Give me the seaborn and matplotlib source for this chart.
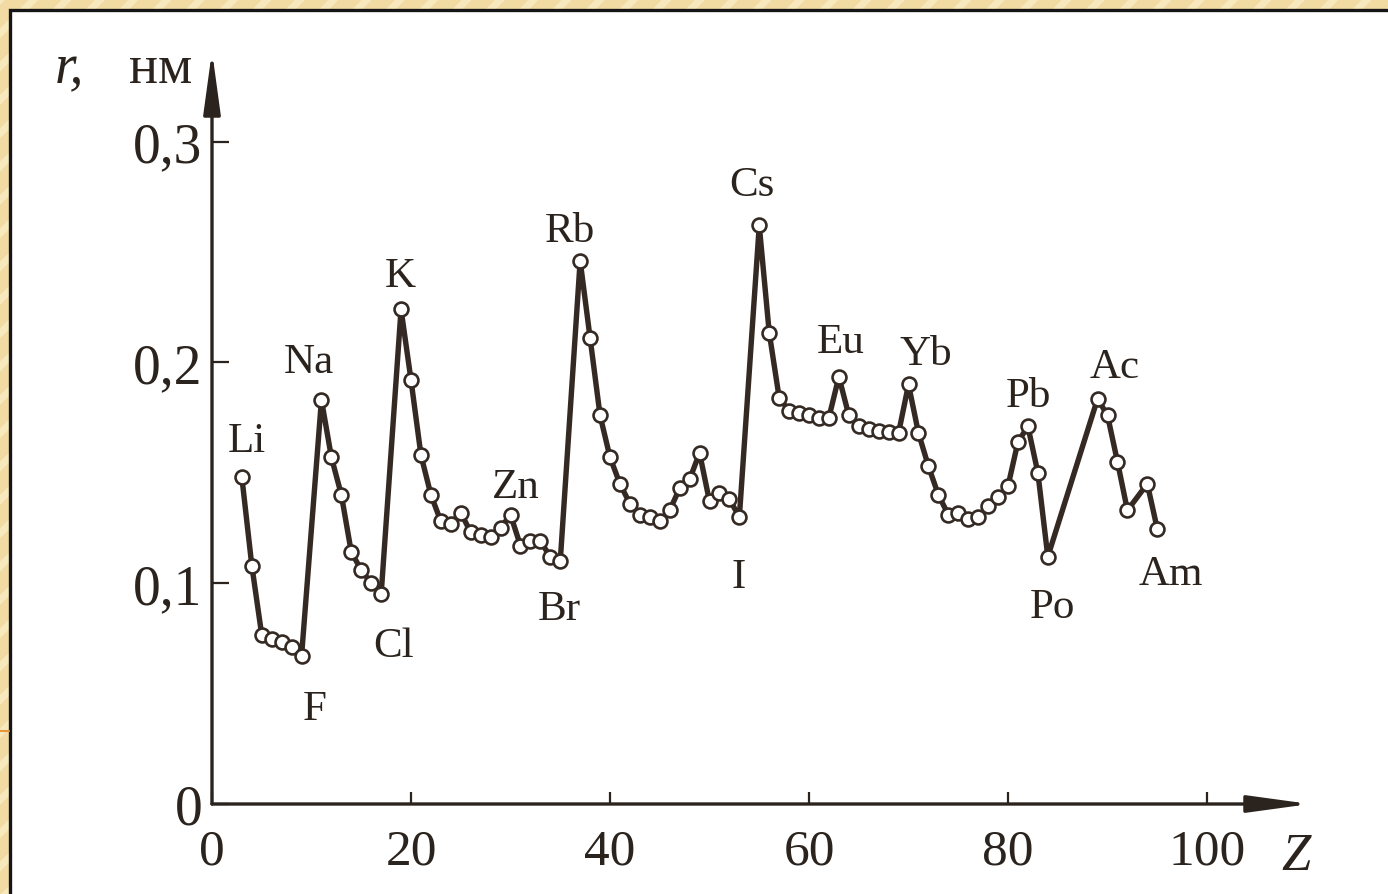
import numpy as np
import pandas as pd
import matplotlib
matplotlib.use("Agg")
import matplotlib.pyplot as plt
from matplotlib.patches import Rectangle
from matplotlib.lines import Line2D
import seaborn as sns

# atomic number and radius (nm), noble gases are left out as in the textbook figure
z_values = [3, 4, 5, 6, 7, 8, 9,
            11, 12, 13, 14, 15, 16, 17,
            19, 20, 21, 22, 23, 24, 25, 26, 27, 28, 29, 30, 31, 32, 33, 34, 35,
            37, 38, 39, 40, 41, 42, 43, 44, 45, 46, 47, 48, 49, 50, 51, 52, 53,
            55, 56, 57, 58, 59, 60, 61, 62, 63, 64, 65, 66, 67, 68, 69, 70,
            71, 72, 73, 74, 75, 76, 77, 78, 79, 80, 81, 82, 83, 84,
            89, 90, 91, 92, 94, 95]
radius = [0.148, 0.108, 0.0765, 0.0748, 0.0734, 0.071, 0.067,
          0.183, 0.157, 0.140, 0.114, 0.106, 0.100, 0.095,
          0.224, 0.192, 0.158, 0.140, 0.128, 0.127, 0.132, 0.123, 0.122, 0.121, 0.125,
          0.131, 0.117, 0.119, 0.119, 0.112, 0.110,
          0.246, 0.211, 0.176, 0.157, 0.145, 0.136, 0.131, 0.130, 0.128, 0.133, 0.143,
          0.147, 0.159, 0.137, 0.141, 0.138, 0.130,
          0.262, 0.2135, 0.184, 0.178, 0.177, 0.176, 0.175, 0.175, 0.1935, 0.176,
          0.171, 0.170, 0.169, 0.1685, 0.168, 0.190,
          0.168, 0.153, 0.140, 0.131, 0.132, 0.129, 0.130, 0.135, 0.139, 0.144,
          0.164, 0.171, 0.150, 0.112,
          0.1835, 0.176, 0.155, 0.133, 0.145, 0.1246]

# labelled elements
label_names = ["Li", "F", "Na", "Cl", "K", "Zn", "Br", "Rb", "I", "Cs",
               "Eu", "Yb", "Pb", "Po", "Ac", "Am"]
label_z = [3, 9, 11, 17, 19, 30, 35, 37, 53, 55, 63, 70, 82, 84, 89, 95]

x_ticks = [0, 20, 40, 60, 80, 100]
y_ticks = [0, 0.1, 0.2, 0.3]
y_tick_labels = ["0", "0,1", "0,2", "0,3"]

# label placement (pixel offsets of text baseline from the point)
label_offsets = {
    "Li": (5, 26), "F": (13, -63), "Na": (-13, 28), "Cl": (12, -62),
    "K": (-1, 23), "Zn": (5, 18), "Br": (-1, -58), "Rb": (-10, 20),
    "I": (-1, -70), "Cs": (-7, 30), "Eu": (2, 25), "Yb": (17, 20),
    "Pb": (1, 20), "Po": (5, -60), "Ac": (17, 22), "Am": (14, -55),
}

ink = "#2b231d"
line_col = "#342a23"

sns.set_style("white")
plt.rcParams["font.family"] = ["Liberation Serif", "DejaVu Serif"]
plt.rcParams["hatch.linewidth"] = 5

df = pd.DataFrame({"Z": z_values, "r": radius})

W, H = 1388, 895
fig = plt.figure(figsize=(W / 100, H / 100), dpi=100)
fig.patch.set_facecolor("#F1DBA3")
# faint diagonal stripes of the slide frame
fig.patches.append(Rectangle((0, 0), 1, 1, transform=fig.transFigure,
                             facecolor="none", edgecolor="#F7E8BE", hatch="/",
                             lw=0, zorder=-10))
panel = Rectangle((9.5 / W, -0.05), 1.1, (H - 10.5) / H + 0.05,
                  transform=fig.transFigure, facecolor="white",
                  edgecolor="#151515", lw=2.4, zorder=-5)
fig.patches.append(panel)
fig.add_artist(Line2D([0, 8.5 / W], [(H - 732) / H] * 2, color="#E8963A",
                      lw=1.5, transform=fig.transFigure, zorder=-4))

ax = fig.add_axes([212 / W, 90 / H, (1310 - 212) / W, (805 - 52) / H])
ax.set_facecolor("none")
ax.set_zorder(2)

sns.lineplot(data=df, x="Z", y="r", ax=ax, estimator=None, sort=False,
             color=line_col, linewidth=3.9, marker="o", markersize=10,
             markerfacecolor="white", markeredgecolor=line_col,
             markeredgewidth=1.9, zorder=3)

ax.set_xlim(0, 110.35)
ax.set_ylim(0, 0.341)
for s in ax.spines.values():
    s.set_visible(False)

# axes with arrow heads
arrow = dict(arrowstyle="-|>,head_length=1.9,head_width=0.26", lw=2.4,
             color=ink, shrinkA=0, shrinkB=0, mutation_scale=20)
ax.annotate("", xy=(1, 0), xytext=(0, 0), xycoords="axes fraction", arrowprops=arrow)
ax.annotate("", xy=(0, 1), xytext=(0, 0), xycoords="axes fraction", arrowprops=arrow)

ax.set_xticks(x_ticks)
ax.set_xticklabels([str(v) for v in x_ticks])
ax.set_yticks(y_ticks)
ax.set_yticklabels(y_tick_labels)
ax.tick_params(axis="x", bottom=True, direction="in", length=9, width=1.6,
               color=ink, labelsize=37, pad=17, labelcolor=ink)
ax.tick_params(axis="y", left=True, direction="in", length=12, width=1.6,
               color=ink, labelsize=40, pad=7, labelcolor=ink)
ax.set_xlabel("")
ax.set_ylabel("")

lookup = dict(zip(z_values, radius))
for name, z in zip(label_names, label_z):
    dx, dy = label_offsets[name]
    ax.annotate(name, xy=(z, lookup[z]), xytext=(dx, dy), textcoords="offset pixels",
                ha="center", va="baseline", fontsize=31, color=ink)

# axis titles
fig.text(55 / W, (H - 83) / H, "r,", fontsize=40, style="italic",
         color=ink, ha="left", va="baseline", zorder=5)
fig.text(192 / W, (H - 83) / H, "нм", fontsize=39, color=ink,
         ha="right", va="baseline", zorder=5)
fig.text(1296 / W, (H - 870) / H, "Z", fontsize=38, style="italic",
         color=ink, ha="center", va="baseline", zorder=5)

fig.savefig("out.png", dpi=100, facecolor=fig.get_facecolor())
